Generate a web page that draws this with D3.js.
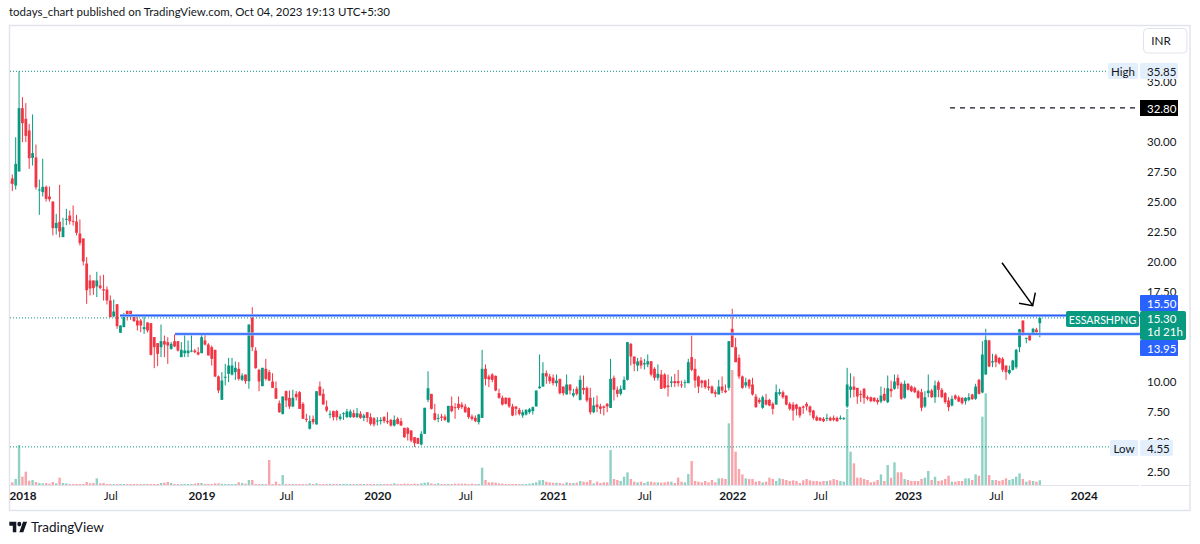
<!DOCTYPE html>
<html><head><meta charset="utf-8">
<style>html,body{margin:0;padding:0;background:#fff;overflow:hidden}svg{display:block}text{font-family:Lato,"Open Sans",sans-serif;fill:#131722}</style>
<script src="https://cdn.jsdelivr.net/npm/d3@7"></script>
</head><body><svg id="c" width="1200" height="544"></svg>
<script>
const opens=[26.5,26.92,26.33,27.5,32.78,31.89,30.92,28.64,28.67,25.95,
25.78,26.22,25.42,25,22.78,23.31,22.03,23.5,23.83,23.39,
23.33,22.33,21.92,19.83,18.42,18.42,17.92,18,17.69,17.67,
16.75,15.42,16.44,14.06,14.53,15.89,15.89,15.42,15.08,15.08,
14.36,14.92,14.86,13.7,13.2,12.86,13.36,13.28,12.72,13.36,
13.36,12.03,12.36,12.36,12.5,12.58,12.44,12.36,13.42,13.08,
12.86,12.64,10.42,8.47,10.31,10.64,10.58,10.78,11.06,10.14,
10.58,10.03,15.31,12.58,10.97,9.61,11.06,10.78,10.0,9.44,
8.19,7.3,9.2,8.64,7.92,8.97,9.11,8.14,6.89,6.06,
6.89,6.42,9.58,8.97,7.92,7.25,7.53,7.53,6.89,7.31,
7.03,7.03,7.36,7.03,7.31,6.97,7.44,7.03,6.94,6.7,
6.7,7.03,6.7,6.8,6.33,6.89,6.69,6.14,6.11,5.92,
5.36,5.3,4.75,5.64,8.47,8.97,7.36,6.89,7.08,7.08,
6.61,7.97,7.86,8.14,8.08,7.92,7.8,7.08,6.97,6.61,
6.97,11.06,10.42,10.58,10.47,9.03,8.64,8.64,8.64,7.92,
7.92,7.64,7.17,7.25,7.44,7.53,7.92,9.44,9.58,10.69,
10.42,10.31,9.86,10.22,9.58,8.92,9.75,8.83,9.39,8.47,
9.47,9.47,8.64,7.44,8.08,7.92,7.92,8.14,7.8,10.31,
9.31,8.97,9.31,10.14,13.14,12.08,11.33,11.75,11.42,11.42,
11.69,11.06,10.31,10.58,10.58,9.67,9.89,10.03,10.03,9.75,
9.86,9.86,12.03,11.06,10.42,10.08,10.08,9.58,9.58,9.11,
8.92,9.58,9.25,9.47,14.39,12.86,11.97,10.42,9.67,10.14,
9.75,8.75,8.47,7.81,8.47,8.47,8.14,8.08,8.97,9.11,
8.83,8.14,8.08,8.08,7.86,7.92,8.14,7.92,7.58,7.03,
6.97,6.89,6.89,6.97,6.97,6.97,6.92,6.89,7.92,9.31,
9.58,9.47,8.97,9.39,8.69,8.69,8.64,8.47,8.33,8.97,
8.28,9.39,9.39,10.31,9.81,8.64,9.81,9.58,9.47,9.19,
9.11,7.92,9.03,9.25,8.69,9.94,9.31,9.03,8.42,8.0,
8.83,8.69,8.64,8.36,8.47,8.92,8.56,10.14,9.08,10.58,
13.42,11.58,12.17,11.97,11.89,11.33,10.69,10.97,11.19,12.86,
15.08,13.56,13.97,13.97,14.33,14.86];
const closes=[26.7,26.47,28.14,32.78,31.53,30.47,28.61,29.03,26.19,26.0,
26.22,25.22,25.19,22.78,23.22,22.5,22.86,23.56,23.36,23.33,
22.39,21.53,20,17.61,17.75,17.78,18.42,17.8,17.58,16.75,
15.36,15.83,14.61,14.67,15.44,15.36,15.36,15.03,14.67,14.67,
14.53,14.25,12.22,12.86,12.3,13.36,13.08,13,13.14,12.92,
12.58,12.64,12.58,12.58,12.58,12.44,12.25,13.69,13.08,12.17,
11.89,10.42,9.25,10.08,10.39,11.33,11.33,11.14,10.22,10.5,
10.03,14.75,12.86,11.11,10.0,11.14,10.22,10.08,9.47,8.56,
7.44,8.75,8.42,7.92,8.64,8.69,7.72,6.89,6.8,6.7,
6.61,9.19,8.83,8.08,7.58,7.31,7.03,7.03,7.08,7.36,
7.5,7.5,7.03,7.36,6.97,7.17,6.97,6.47,6.42,6.75,
6.8,6.7,6.61,6.33,6.8,6.47,6.33,5.36,5.64,5.08,
4.86,4.81,5.64,7.81,9.44,7.72,6.81,6.97,6.97,6.8,
7.97,7.53,7.78,7.8,7.86,7.44,7.03,6.89,6.69,7.25,
11.06,10.22,10.17,10.14,9.25,8.64,8.08,8.14,7.92,7.17,
7.72,7.3,7.44,7.64,7.69,7.86,9.25,9.58,10.69,10.42,
10.03,9.86,10.08,9.03,9.03,9.75,9.25,9.03,8.97,10.14,
9.3,8.42,7.44,8.0,7.86,7.72,7.8,7.92,10.22,9.31,
8.97,9.39,10.14,13.28,12.08,11.47,11.67,11.33,11.53,11.69,
10.58,10.31,10.64,9.39,9.47,9.53,10.0,9.86,9.86,9.67,
9.94,11.61,10.97,10.08,9.58,9.86,9.53,9.47,9.03,8.97,
9.58,9.25,9.11,13.36,12.86,11.61,10.42,9.47,9.94,9.58,
8.92,7.86,8.28,8.69,8.08,8.0,7.72,9.11,9.11,8.69,
8.08,7.72,7.58,7.72,7.17,7.81,7.92,7.44,6.97,6.75,
6.75,6.69,6.97,6.75,6.81,6.69,6.97,6.94,9.75,9.58,
9.31,8.75,8.89,8.64,8.56,8.36,8.36,8.28,8.83,8.42,
9.44,9.19,10,9.67,8.56,9.81,9.31,9.19,9.11,8.64,
7.81,8.69,9.25,8.69,9.67,9.31,8.69,8.28,7.86,8.56,
8.56,8.33,8.19,8.64,8.69,8.53,9.58,8.97,12.25,13.47,
11.25,11.69,11.61,11.53,10.97,10.78,10.97,11.75,12.64,14.36,
13.92,13.64,13.42,14.39,14.11,15.3];
const highs=[26.8,27.25,30.36,35.85,33.7,33.2,31.47,32.25,29.75,26.83,
28.56,26.33,26.25,25,23.97,26.39,23.64,24.39,24.25,24.67,
23.89,23.5,21.92,20.36,18.89,18.42,19.14,18.83,18.89,17.92,
17.17,16.83,16.44,14.67,15.72,15.89,15.89,15.58,15.36,15.22,
15.58,14.92,14.86,13.7,13.2,14.75,13.83,13.69,13.28,13.92,
13.36,13.28,13.86,13.42,13.86,12.72,12.86,13.92,13.92,13.2,
13,12.64,10.5,10.78,11.47,11.97,11.97,11.67,11.61,10.69,
10.58,14.75,16.19,12.86,11.06,11.14,11.89,10.97,10.69,10.0,
8.42,8.75,9.25,9.25,9.31,9.2,9.2,8.28,7.31,7.17,
7.17,9.19,10,9.39,8.42,7.58,7.58,7.64,7.31,7.44,
7.72,7.67,7.64,7.8,7.53,7.31,7.44,7.36,7.03,7.03,
7.03,7.11,7.44,6.89,7.17,7.03,6.97,6.14,6.2,5.92,
5.36,5.3,5.86,7.81,10.86,8.97,8.14,7.3,7.3,7.25,
7.97,8.75,8.2,8.75,8.28,8.14,7.86,7.25,7.17,7.31,
12.64,11.42,10.58,10.69,10.5,9.39,8.83,8.69,8.64,8.14,
7.92,7.8,7.64,7.69,7.8,7.92,9.25,12.25,11.61,10.92,
10.64,10.58,10.58,10.22,9.58,10.58,9.75,9.39,9.58,10.5,
10.5,9.58,9.47,8.69,8.83,8.14,8,8.2,11.89,10.5,
9.58,9.67,10.42,13.28,13.2,12.08,11.97,12.03,11.89,12.25,
11.69,11.19,11.42,10.97,10.69,10.58,10.42,10.64,10.97,10.08,
10.14,11.89,13.83,11.89,10.5,10.14,10.14,10.22,9.67,9.31,
10.14,10.42,9.75,13.36,16.06,13.64,12.25,10.5,10.31,10.22,
10.31,8.97,8.64,8.83,8.97,8.56,8.28,9.75,9.39,9.25,
8.83,8.28,8.28,8.14,7.92,8,8.28,8,7.64,7.17,
7.03,7.03,7.31,7.08,7.17,7.08,7.17,7.03,11.14,10.69,
10.42,9.47,9.25,9.47,8.83,8.75,8.69,8.64,9.58,9.47,
10.5,10.08,10.58,10.58,9.94,10.08,9.86,9.67,9.58,9.31,
9.39,9.19,10.58,9.39,10.08,10.08,9.47,9.11,8.69,8.83,
8.92,8.83,8.69,8.69,9.03,8.97,9.81,10.22,13.36,14.39,
13.47,12.31,12.31,12.03,12.03,11.33,11.33,11.81,12.72,14.39,
15.08,13.64,14.03,14.47,14.47,15.35];
const lows=[26.4,25.86,26,27.5,29.95,29.95,27.72,28,26,23.89,
25.42,25,25,22.17,22.25,22,22.03,23.03,23.08,23,
22.17,21.33,19.67,16.47,17.17,17.22,17.03,17.67,16.75,16.42,
15.36,15.36,14.39,14.06,14.53,15.08,15.14,14.97,14.25,14.11,
13.97,14.08,12.17,11.11,11.28,12.03,12.03,11.47,12.64,12.86,
12.5,12.03,12.03,12.03,12.44,12.36,12.17,12.36,13,12.17,
11.33,10.36,9.03,8.47,9.67,9.94,10.5,10.14,10.08,10.03,
9.81,9.39,12.53,11.06,9.19,9.61,10.08,10.03,9.47,8.56,
7.39,7.25,7.86,7.72,7.86,8.42,7.72,6.89,6.61,6,
6.42,6.42,8.83,8.08,7.44,6.94,6.75,6.75,6.75,6.8,
6.97,6.97,6.97,6.97,6.89,6.7,6.61,6.33,6.25,6.33,
6.42,6.53,6.47,6.25,6.25,6.42,6.3,5.3,5.08,4.94,
4.55,4.81,4.67,5.64,8.28,7.67,6.75,6.61,6.7,6.7,
6.56,7.44,6.89,7.64,7.72,7.39,6.89,6.75,6.61,6.42,
6.97,9.67,9.53,9.94,9.19,8.56,8,8.08,7.8,7.11,
7.17,7.17,6.97,7.17,7.3,7.25,7.92,9.39,9.58,9.81,
9.81,9.67,9.58,8.92,8.83,8.92,8.92,8.69,8.83,8.42,
8.92,8.28,7.25,7.36,7.44,7.3,7.17,7.44,7.8,8.42,
8.69,8.83,9.31,10.08,11.33,10.86,10.86,11.06,11,11.19,
10.42,10.08,10.08,9.39,9.39,8.75,9.53,9.53,9.58,9.47,
9.47,9.86,10.86,9.47,9.03,9.47,9.39,9.25,8.97,8.69,
8.92,9.03,9.03,9.25,12.86,11.61,10.22,9.39,9.47,9.39,
8.83,7.81,8.14,7.72,8,7.94,7.25,8.08,8.83,8.56,
8,7.58,6.75,7.17,6.97,7.3,7.58,7.17,6.81,6.69,
6.69,6.61,6.69,6.69,6.69,6.64,6.81,6.81,7.81,8.64,
8.69,8.14,8.28,8.14,8.42,8.28,8.28,8.08,8.19,8.36,
8.19,8.69,9.31,9.39,8.47,8.56,9.25,9.11,9.03,8.56,
7.53,7.81,8.69,8.64,8.22,8.69,8.64,8.14,7.53,7.92,
8.47,8.28,8.08,8.08,8.36,8.47,8.47,8.92,9.03,10.58,
11.19,11.19,11.19,11.42,10.78,10.14,10.58,10.92,11.06,12.44,
13.83,13.19,13.42,13.92,14.06,13.69];
const volumes=[0,8,18,120,25,40,13,15,9,6,
5,6,4,9,5,22,6,5,3,3,
3,3,3,9,5,6,20,5,6,3,
3,3,3,3,3,3,3,3,3,3,
3,3,3,3,3,6,7,9,6,3,
3,3,3,3,3,4,6,6,3,3,
3,5,5,3,3,3,3,3,8,6,
4,15,15,3,3,3,3,75,3,10,
3,30,3,3,3,3,3,3,3,5,
3,5,3,3,3,3,3,3,3,3,
3,3,3,3,3,3,3,3,3,3,
3,3,3,3,5,3,3,4,4,3,
4,3,5,7,8,5,3,5,3,3,
3,3,4,4,4,4,3,4,3,3,
52,15,8,8,7,5,4,3,3,3,
3,3,3,3,4,6,8,14,15,10,
8,7,7,6,4,8,6,6,7,12,
10,9,15,5,10,6,8,8,105,18,
15,12,25,38,18,10,8,10,6,10,
10,8,8,7,8,10,10,6,22,10,
8,33,72,12,10,8,12,8,15,8,
20,20,18,185,345,100,48,32,20,18,
18,10,12,8,10,22,18,12,20,18,
15,12,14,12,6,14,18,14,12,12,
10,12,12,14,18,15,12,10,228,100,
65,22,22,18,15,8,10,15,32,12,
60,22,68,38,38,18,15,12,12,12,
18,22,42,15,25,12,14,18,28,10,
10,12,12,20,20,15,32,28,205,275,
30,15,15,12,15,20,15,18,25,35,
18,10,14,12,10,14];
const timeLabels=["2018","Jul","2019","Jul","2020","Jul","2021","Jul","2022","Jul","2023","Jul","2024"];
const timeBars=[4,30,57,82,109,135,161,188,214,240,266,292,318];
const priceTicks=[2.5,5,7.5,10,17.5,20,22.5,25,27.5,30,35];
const highPrice=35.85, lowPrice=4.55, lastPrice=15.30, targetPrice=32.80;
const resistanceUpper=15.50, resistanceLower=13.95;
const symbol="ESSARSHPNG", countdown="1d 21h";

const GREEN="#089981",RED="#f23645",BLUE="#2962ff",BORDER="#e0e3eb",PALE="#e3effd";
const svg=d3.select("#c");
const x=d3.scaleLinear().domain([0,305]).range([8.92,1039.82]);
const y=d3.scaleLinear().domain([2.5,30]).range([471.5,141.5]);
const v=d3.scaleLinear().domain([0,345]).range([485,370]);
const defs=svg.append("defs");
defs.append("clipPath").attr("id","pane").append("rect").attr("x",10).attr("y",26).attr("width",1130).attr("height",459);

svg.append("text").attr("x",9).attr("y",15.5).attr("font-size",11.5)
 .text("todays_chart published on TradingView.com, Oct 04, 2023 19:13 UTC+5:30");

// frame
svg.append("rect").attr("x",9.5).attr("y",25.5).attr("width",1180.5).attr("height",485).attr("fill","#fff").attr("stroke",BORDER).attr("stroke-width",1.4);
svg.append("line").attr("x1",10).attr("x2",1139).attr("y1",485.5).attr("y2",485.5).attr("stroke",BORDER);
svg.append("line").attr("x1",1141).attr("x2",1190).attr("y1",485.5).attr("y2",485.5).attr("stroke",BORDER);

// axes through d3
const xAxis=d3.axisBottom(x).tickValues(timeBars).tickSize(0).tickPadding(0).tickFormat((d,i)=>timeLabels[i]);
const gx=svg.append("g").attr("transform","translate(0,492)").call(xAxis);
gx.select(".domain").remove();
gx.selectAll("text").attr("font-size",11.7).attr("dy","0.71em")
  .attr("font-weight",(d,i)=>timeLabels[i]==="Jul"?400:700).style("font-family","Lato,sans-serif").style("fill","#131722");
const yAxis=d3.axisRight(y).tickValues(priceTicks).tickSize(0).tickPadding(0).tickFormat(d3.format(".2f"));
const gy=svg.append("g").attr("transform","translate(1147,0)").call(yAxis);
gy.select(".domain").remove();
gy.selectAll("text").attr("font-size",11.5).style("font-family","Lato,sans-serif").style("fill","#131722");

const idx=d3.range(opens.length);
const pane=svg.append("g").attr("clip-path","url(#pane)");
// volume
pane.append("g").selectAll("rect").data(idx).join("rect")
 .attr("x",i=>x(i)-1.2).attr("width",2.4).attr("y",i=>v(volumes[i])).attr("height",i=>485-v(volumes[i]))
 .attr("fill",i=>closes[i]>=opens[i]?GREEN:RED).attr("opacity",.45);
// price guides
const guides=[[highPrice,1108],[lowPrice,1110],[lastPrice,1066]];
svg.append("g").selectAll("line").data(guides).join("line")
 .attr("x1",10).attr("x2",d=>d[1]).attr("y1",d=>y(d[0])).attr("y2",d=>y(d[0]))
 .attr("stroke",GREEN).attr("stroke-width",1).attr("stroke-dasharray","1 2");
// candles
pane.append("g").selectAll("line").data(idx).join("line")
 .attr("x1",i=>x(i)).attr("x2",i=>x(i)).attr("y1",i=>y(highs[i])).attr("y2",i=>y(lows[i]))
 .attr("stroke",i=>closes[i]>=opens[i]?GREEN:RED).attr("stroke-width",1);
pane.append("g").selectAll("rect").data(idx).join("rect")
 .attr("x",i=>x(i)-1.4).attr("width",2.8)
 .attr("y",i=>y(Math.max(opens[i],closes[i])))
 .attr("height",i=>Math.max(1,Math.abs(y(opens[i])-y(closes[i]))))
 .attr("fill",i=>closes[i]>=opens[i]?GREEN:RED);
// drawn levels
[[resistanceUpper,120],[resistanceLower,175]].forEach(([p,x0])=>{
 svg.append("line").attr("x1",x0).attr("x2",1140).attr("y1",y(p)).attr("y2",y(p)).attr("stroke","#a9c1fb").attr("stroke-width",3);
 svg.append("line").attr("x1",x0).attr("x2",1140).attr("y1",y(p)).attr("y2",y(p)).attr("stroke",BLUE).attr("stroke-width",1.5);
});
svg.append("line").attr("x1",950).attr("x2",1140).attr("y1",y(targetPrice)).attr("y2",y(targetPrice))
 .attr("stroke","#131722").attr("stroke-width",1.2).attr("stroke-dasharray","5 5");
// arrow annotation
svg.append("path").attr("d","M1002 262.7L1032.7 305.4M1019 303.3L1032.7 305.7L1035.3 292.7")
 .attr("fill","none").attr("stroke","#000").attr("stroke-width",1.5);

function box(bx,by,w,h,fill,r){svg.append("rect").attr("x",bx).attr("y",by).attr("width",w).attr("height",h).attr("rx",r||0).attr("fill",fill);}
function lab(tx,ty,t,c,a,fs){svg.append("text").attr("x",tx).attr("y",ty).attr("font-size",fs||11.5).attr("text-anchor",a||"start").style("fill",c||"#131722").text(t);}
// high / low
box(1108,63,30,16,PALE,2);box(1140,63,38,16,PALE,2);
lab(1123,75.5,"High",null,"middle");lab(1147,75.5,d3.format(".2f")(highPrice));
box(1110,440,28,16,PALE,2);box(1140,440,33,16,PALE,2);
lab(1124,452.5,"Low",null,"middle");lab(1147,452.5,d3.format(".2f")(lowPrice));
// target
box(1140,100,38,16,"#000");lab(1147,112.5,d3.format(".2f")(targetPrice),"#fff");
// levels
box(1140,295,38,16,BLUE,1);lab(1147,307.5,d3.format(".2f")(resistanceUpper),"#fff");
box(1140,340,38,16,BLUE,1);lab(1147,352.5,d3.format(".2f")(resistanceLower),"#fff");
// last price
box(1066,311,73,16,GREEN,2);lab(1102.5,323.5,symbol,"#fff","middle",10.6);
box(1140,311,46,29,GREEN,2);lab(1147,323,d3.format(".2f")(lastPrice),"#fff");lab(1147,336,countdown,"#fff");
// currency button
svg.append("rect").attr("x",1143.5).attr("y",28.5).attr("width",43.5).attr("height",24.5).attr("rx",4).attr("fill","#fff").attr("stroke",BORDER);
lab(1161,45,"INR",null,"middle",11.7);
// logo
const logo=svg.append("g").attr("transform","translate(9.3,517.6) scale(.5,.59)").attr("fill","#131722");
logo.append("path").attr("d","M14 25H7V14H0V7h14v18zM28 25h-8l7.5-18h8L28 25z");
logo.append("circle").attr("cx",20).attr("cy",11).attr("r",4);
svg.append("text").attr("x",31).attr("y",532).attr("font-size",13.5).text("TradingView");
</script></body></html>
